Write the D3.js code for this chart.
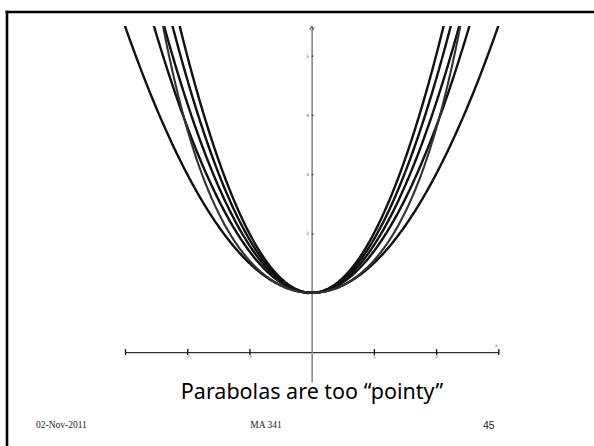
<!DOCTYPE html>
<html>
<head>
<meta charset="utf-8">
<script src="https://cdn.jsdelivr.net/npm/d3@7"></script>
<style>
  html, body { margin: 0; padding: 0; background: #fff; }
  svg { display: block; }
</style>
</head>
<body>
<svg id="slide" width="594" height="446"></svg>
<script>
// Parabolas y = 1 + a·x² through the common vertex (0, 1)
const parabolaCoeffs = [0.5, 0.7, 0.8, 0.9, 1.0];
// Hanging chain (catenary) y = c·cosh(x / c) for comparison
const catenaryScales = [1.0];

// Axis ticks
const xTicks = [-3, -2, -1, 1, 2, 3];
const xTickLabels = ["", "-2", "-1", "1", "2", ""];
const yTicks = [1, 2, 3, 4, 5];
const yTickLabels = ["1", "2", "3", "4", "5"];

// Slide texts
const caption = "Parabolas are too \u201Cpointy\u201D";
const footerDate = "02-Nov-2011";
const footerCourse = "MA 341";
const footerPage = "45";

const svg = d3.select("#slide");

const x = d3.scaleLinear().domain([-3, 3]).range([125, 498.3]);
const y = d3.scaleLinear().domain([-0.5, 5.5]).range([381.7, 26]);

// Slide frame: rule along the top and the left edge
svg.append("line").attr("x1", 5.5).attr("x2", 594).attr("y1", 12).attr("y2", 12)
  .attr("stroke", "#000").attr("stroke-width", 2.6);
svg.append("line").attr("x1", 7).attr("x2", 7).attr("y1", 10.7).attr("y2", 446)
  .attr("stroke", "#000").attr("stroke-width", 2.6);

// Clip region for the curves
svg.append("defs").append("clipPath").attr("id", "plot")
  .append("rect")
  .attr("x", x(-3) - 2).attr("y", y(5.5))
  .attr("width", x(3) - x(-3) + 4).attr("height", y(-0.5) - y(5.5));

// x axis
const xAxis = d3.axisBottom(x)
  .tickValues(xTicks)
  .tickSize(3)
  .tickSizeOuter(0)
  .tickFormat((d, i) => xTickLabels[i]);
const gx = svg.append("g").attr("transform", `translate(0,${y(0)})`).call(xAxis);
gx.select(".domain").attr("stroke", "#333").attr("stroke-width", 1.3);
gx.selectAll(".tick line").attr("stroke", "#111").attr("stroke-width", 1.3).attr("y1", -3);
gx.selectAll(".tick text").attr("font-size", 4.5).attr("font-family", "DejaVu Sans").attr("fill", "#555").attr("dy", "-0.1em");
gx.append("text").attr("x", x(3) - 2).attr("y", -5).attr("font-size", 4.5)
  .attr("font-family", "DejaVu Sans").attr("fill", "#555").text("x");

// y axis
const yAxis = d3.axisLeft(y)
  .tickValues(yTicks)
  .tickSize(2)
  .tickSizeOuter(0)
  .tickFormat((d, i) => yTickLabels[i]);
const gy = svg.append("g").attr("transform", `translate(${x(0)},0)`).call(yAxis);
gy.select(".domain").attr("stroke", "#888").attr("stroke-width", 1.6);
gy.selectAll(".tick line").attr("stroke", "#333").attr("stroke-width", 1).attr("x2", 2);
gy.selectAll(".tick text").attr("font-size", 4.5).attr("font-family", "DejaVu Sans").attr("fill", "#555").attr("x", -2.5);
gy.append("path")
  .attr("d", `M${-2},${y(5.5) + 4} L0,${y(5.5)} L2,${y(5.5) + 4}`)
  .attr("fill", "none").attr("stroke", "#555").attr("stroke-width", 1);
gy.append("text").attr("x", 3).attr("y", y(5.5) + 3).attr("font-size", 4.5)
  .attr("font-family", "DejaVu Sans").attr("fill", "#555").text("y");

// Curves
const xs = d3.range(-3.05, 3.0501, 0.02);
const line = d3.line().x(d => x(d[0])).y(d => y(d[1])).curve(d3.curveLinear);
const curves = svg.append("g").attr("clip-path", "url(#plot)").attr("fill", "none");

parabolaCoeffs.forEach(a => {
  curves.append("path")
    .datum(xs.map(t => [t, 1 + a * t * t]))
    .attr("d", line)
    .attr("stroke", "#111").attr("stroke-width", 2.4);
});
catenaryScales.forEach(c => {
  curves.append("path")
    .datum(xs.map(t => [t, c * Math.cosh(t / c)]))
    .attr("d", line)
    .attr("stroke", "#333").attr("stroke-width", 2.1);
});

// Caption
svg.append("text")
  .attr("x", 312).attr("y", 399)
  .attr("text-anchor", "middle")
  .attr("font-family", "Noto Sans")
  .attr("font-size", 21.5)
  .attr("fill", "#000")
  .text(caption);

// Footer
svg.append("text").attr("x", 36).attr("y", 428)
  .attr("font-family", "Liberation Serif").attr("font-size", 9.5).attr("fill", "#222")
  .text(footerDate);
svg.append("text").attr("x", 266).attr("y", 428).attr("text-anchor", "middle")
  .attr("font-family", "Liberation Serif").attr("font-size", 9.5).attr("fill", "#222")
  .text(footerCourse);
svg.append("text").attr("x", 483).attr("y", 428.5)
  .attr("font-family", "Liberation Sans").attr("font-size", 10.5).attr("fill", "#222")
  .text(footerPage);
</script>
</body>
</html>
